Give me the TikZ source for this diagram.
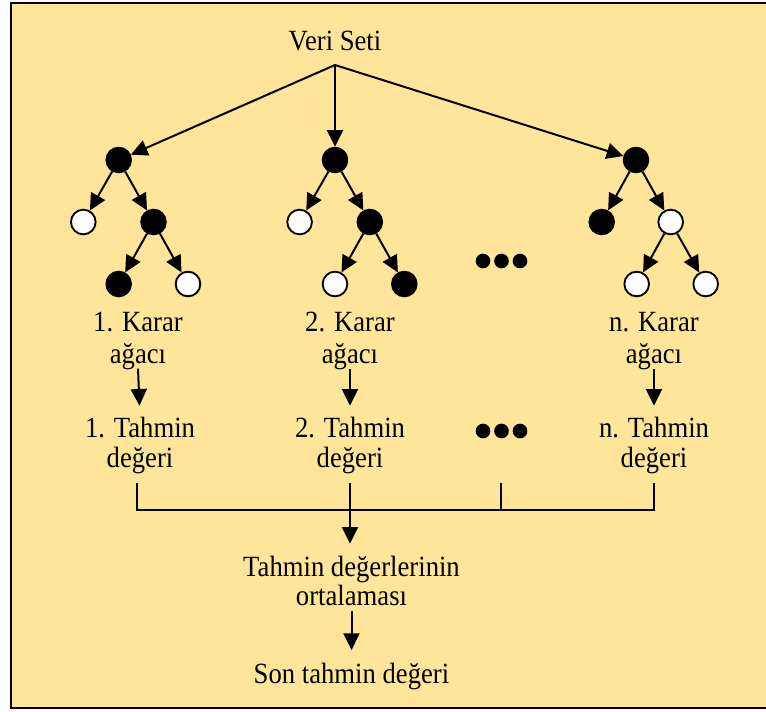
\documentclass[tikz,border=0pt]{standalone}
\usepackage{fontspec}
\setmainfont{Liberation Serif}
\usetikzlibrary{arrows.meta}
\definecolor{panel}{RGB}{255,229,153}
% slightly tall lettering
\newcommand\tallText[1]{\scalebox{1}[1.1]{#1}}
\begin{document}
\begin{tikzpicture}[x=0.75pt,y=-0.75pt,
  conn/.style={line width=1.5pt},
  arr/.style={conn,-{Triangle[length=12.5pt,width=12pt]}},
  full/.style={circle,draw,fill=black,line width=1.4pt,minimum size=18.5pt,inner sep=0pt},
  empty/.style={full,fill=white},
  dot/.style={circle,fill=black,minimum size=11pt,inner sep=0pt},
  lbl/.style={font=\fontsize{20}{24}\selectfont,inner sep=0pt,text height=14pt,text depth=4pt,anchor=base}
]
\useasboundingbox (0,0) rectangle (766,711);
\fill[white] (0,0) rectangle (766,711);
% framed panel, running past the right edge
\begin{scope}
  \clip (0,0) rectangle (766,711);
  \draw[line width=1.5pt,fill=panel] (11,3) rectangle (775,708);
\end{scope}

% data set and the split towards the trees
\node[lbl] (veri) at (335,50) {\tallText{Veri Seti}};
\coordinate (apex) at (335,65);

% tree 1
\node[full]  (r1) at (118.7,160) {};
\node[empty] (a1) at (83.3,222) {};
\node[full]  (b1) at (153.5,222) {};
\node[full]  (c1) at (118.7,284) {};
\node[empty] (d1) at (188,284) {};
% tree 2
\node[full]  (r2) at (335,160) {};
\node[empty] (a2) at (299.6,222) {};
\node[full]  (b2) at (369.8,222) {};
\node[empty] (c2) at (335,284) {};
\node[full]  (d2) at (404.3,284) {};
% tree n
\node[full]  (r3) at (636,160) {};
\node[full]  (a3) at (601.7,222) {};
\node[empty] (b3) at (670.7,222) {};
\node[empty] (c3) at (636.7,284) {};
\node[empty] (d3) at (705.7,284) {};

\foreach \t in {1,2,3}{
  \draw[arr] (apex) -- (r\t);
  \draw[arr] (r\t) -- (a\t);
  \draw[arr] (r\t) -- (b\t);
  \draw[arr] (b\t) -- (c\t);
  \draw[arr] (b\t) -- (d\t);
}

% ellipsis dots
\node[dot] (e1) at (483,261) {};
\node[dot] (e2) at (501.5,261) {};
\node[dot] (e3) at (520,261) {};
\node[dot] (f1) at (483,431) {};
\node[dot] (f2) at (501.5,431) {};
\node[dot] (f3) at (520,431) {};

% tree labels and their estimates
\node[lbl] (k1a) at (138,331) {\tallText{1. Karar}};
\node[lbl] (k1b) at (138,363) {\tallText{ağacı}};
\node[lbl] (t1a) at (140,437) {\tallText{1. Tahmin}};
\node[lbl] (t1b) at (140,467) {\tallText{değeri}};
\node[lbl] (k2a) at (350,331) {\tallText{2. Karar}};
\node[lbl] (k2b) at (350,363) {\tallText{ağacı}};
\node[lbl] (t2a) at (350,437) {\tallText{2. Tahmin}};
\node[lbl] (t2b) at (350,467) {\tallText{değeri}};
\node[lbl] (k3a) at (654,331) {\tallText{n. Karar}};
\node[lbl] (k3b) at (654,363) {\tallText{ağacı}};
\node[lbl] (t3a) at (654,437) {\tallText{n. Tahmin}};
\node[lbl] (t3b) at (654,467) {\tallText{değeri}};
\foreach \t in {1,2,3}{
  \draw[arr,shorten >=9.3pt] (k\t b.south) -- (t\t a.north);
}

% collecting bracket
\coordinate (u1) at (137,483);
\coordinate (u2) at (350,483);
\coordinate (u3) at (501,483);
\coordinate (u4) at (654,483);
\coordinate (j1) at (137,510);
\coordinate (j2) at (350,510);
\coordinate (j3) at (501,510);
\coordinate (j4) at (654,510);
\draw[conn] (u1) -- (j1) -- (j4) -- (u4);
\draw[conn] (u2) -- (j2);
\draw[conn] (u3) -- (j3);

% averaging and final estimate
\node[lbl] (o1) at (351.5,576) {\tallText{Tahmin değerlerinin}};
\node[lbl] (o2) at (351.5,605) {\tallText{ortalaması}};
\node[lbl] (son) at (351.5,683) {\tallText{Son tahmin değeri}};
\draw[arr,shorten >=10pt] (j2) -- (j2 |- o1.north);
\draw[arr,shorten >=10.5pt] (o2.south) -- (son.north);
\end{tikzpicture}
\end{document}
